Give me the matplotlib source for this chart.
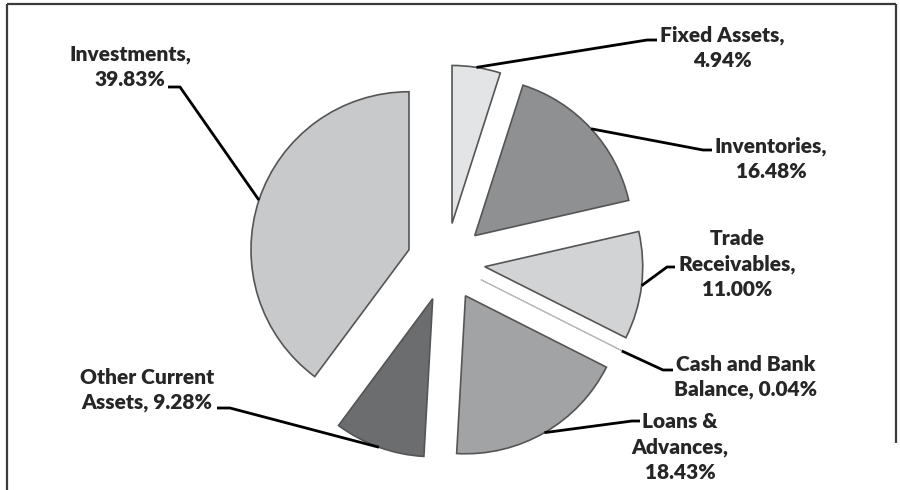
import matplotlib
matplotlib.use('Agg')
import matplotlib.pyplot as plt
import numpy as np

# slices in clockwise order starting at 12 o'clock
labels = ['Fixed Assets,\n4.94%', 'Inventories,\n16.48%', 'Trade\nReceivables,\n11.00%',
          'Cash and Bank\nBalance, 0.04%', 'Loans &\nAdvances,\n18.43%',
          'Other Current\nAssets, 9.28%', 'Investments,\n39.83%']
shares = [4.94, 16.48, 11.00, 0.04, 18.43, 9.28, 39.83]
colors = ['#e3e4e6', '#8f9092', '#d2d3d5', '#d2d3d5', '#a2a3a5', '#6c6d6f', '#c8c9cb']

W, H = 900, 490
R = 158       # pie radius in px
OFFSET = 39   # explode distance in px

# label layout in pixel coords (y down): text centre, elbow, end of leader
text_pos = [(722, 48), (771, 159), (737, 264), (746, 377), (680, 447), (147, 390), (130, 67)]
elbows = [(647, 40), (703, 150), (667, 267), (663, 370), (632, 421), (230, 408), (180, 87)]
ends = [(657, 40), (712, 150), (675, 267), (673, 370), (640, 421), (217, 408), (168, 87)]

fig = plt.figure(figsize=(W / 100, H / 100), dpi=100)
ax = fig.add_axes([0, 0, 1, 1])

wedges, _ = ax.pie(shares, colors=colors, startangle=90, counterclock=False,
                   explode=[OFFSET] * len(shares), radius=R, center=(446, H - 262),
                   wedgeprops=dict(edgecolor='#555555', linewidth=1.2))
wedges[3].set_edgecolor('#bbbbbb')
wedges[3].set_linewidth(0.8)

ax.set_xlim(0, W)
ax.set_ylim(0, H)
ax.set_aspect('equal')
ax.axis('off')

for i, w in enumerate(wedges):
    cx, cy = w.center
    if i == 3:
        th = np.deg2rad(w.theta1)
    else:
        th = np.deg2rad((w.theta1 + w.theta2) / 2)
    ax0 = cx + w.r * np.cos(th)
    ay0 = cy + w.r * np.sin(th)
    ex, ey = elbows[i]
    fx, fy = ends[i]
    ax.plot([ax0, ex, fx], [ay0, H - ey, H - fy], color='black', lw=2,
            solid_capstyle='butt', zorder=3)
    tx, ty = text_pos[i]
    ax.text(tx, H - ty, labels[i], ha='center', va='center', multialignment='center',
            fontsize=15, fontweight='heavy', family=['Lato', 'DejaVu Sans'],
            color='#262626', linespacing=1.4)

# chart frame (cropped at the bottom)
frame_kw = dict(color='#3a3a3a', lw=1.6, solid_capstyle='butt')
ax.plot([7, 896], [H - 4, H - 4], **frame_kw)
ax.plot([7, 7], [H - 4, 0], **frame_kw)
ax.plot([896, 896], [H - 4, H - 443], **frame_kw)

fig.savefig('out.png', dpi=100, facecolor='white')
